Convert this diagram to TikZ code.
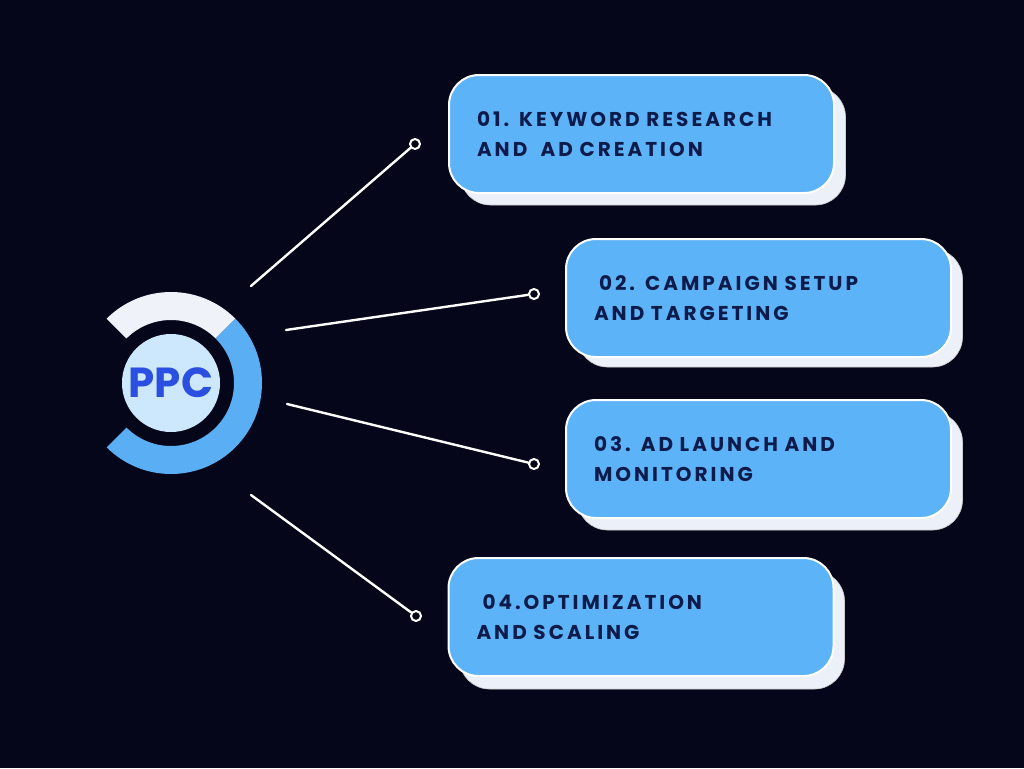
\documentclass[tikz,border=0pt]{standalone}
\usepackage{fontspec}
\setmainfont{Poppins}
\newfontfamily\boxfont{Poppins}[LetterSpace=15]
\definecolor{bg}{HTML}{05061A}
\definecolor{boxblue}{HTML}{5DB3F7}
\definecolor{ringblue}{HTML}{5AAEF3}
\definecolor{ringwhite}{HTML}{F0F2FA}
\definecolor{innerc}{HTML}{CDE8FC}
\definecolor{ppcblue}{HTML}{2B4FE0}
\definecolor{txt}{HTML}{0D1B4B}
\definecolor{shadowc}{HTML}{ECF0F8}
\tikzset{
  stepbox/.style={draw=white, line width=2pt, fill=boxblue, rounded corners=30pt,
    minimum width=385pt, minimum height=118pt, text width=329pt, inner xsep=28pt,
    align=left, text=txt, font=\boxfont\bfseries\fontsize{20}{30}\selectfont},
  shadowbox/.style={draw=gray!40, line width=0.6pt, fill=shadowc, rounded corners=30pt,
    minimum width=385pt, minimum height=118pt},
  conn/.style={draw=white, line width=2.4pt, line cap=round},
  endpt/.style={circle, draw=white, line width=2pt, fill=bg, minimum size=10pt, inner sep=0pt}
}
\begin{document}
\begin{tikzpicture}[x=1pt,y=-1pt]
\fill[bg] (0,0) rectangle (1024,768);
\useasboundingbox (0,0) rectangle (1024,768);
% ring
\begin{scope}[shift={(171,383)}]
  \fill[ringwhite] (45:91pt) arc[start angle=45,end angle=135,radius=91pt] -- (135:63pt) arc[start angle=135,end angle=45,radius=63pt] -- cycle;
  \fill[ringblue] (-135:91pt) arc[start angle=-135,end angle=45,radius=91pt] -- (45:63pt) arc[start angle=45,end angle=-135,radius=63pt] -- cycle;
\end{scope}
\node[circle, fill=innerc, minimum size=98pt, inner sep=0pt, text=ppcblue,
  font=\bfseries\fontsize{42}{42}\selectfont] (ppc) at (171,383) {PPC};
% shadows
\node[shadowbox] (sh1) at (653,146) {};
\node[shadowbox] (sh2) at (770,308) {};
\node[shadowbox] (sh3) at (770,471) {};
\node[shadowbox] (sh4) at (652,630) {};
% boxes
\node[stepbox] (b1) at (641.5,134) {01. KEYWORD RESEARCH\\AND\ \ AD CREATION};
\node[stepbox] (b2) at (758.5,298) {\hspace{5pt}02. CAMPAIGN SETUP\\AND TARGETING};
\node[stepbox] (b3) at (758.5,459) {03. AD LAUNCH AND\\MONITORING};
\node[stepbox] (b4) at (641,617) {\hspace{6pt}04.OPTIMIZATION\\AND SCALING};
% connectors
\coordinate (s1) at (251,286);
\coordinate (s2) at (286,330);
\coordinate (s3) at (287,404);
\coordinate (s4) at (251,495);
\node[endpt] (e1) at (415,144) {};
\node[endpt] (e2) at (534,294) {};
\node[endpt] (e3) at (534,464) {};
\node[endpt] (e4) at (416,616) {};
\draw[conn] (s1) -- (e1);
\draw[conn] (s2) -- (e2);
\draw[conn] (s3) -- (e3);
\draw[conn] (s4) -- (e4);
\end{tikzpicture}
\end{document}
